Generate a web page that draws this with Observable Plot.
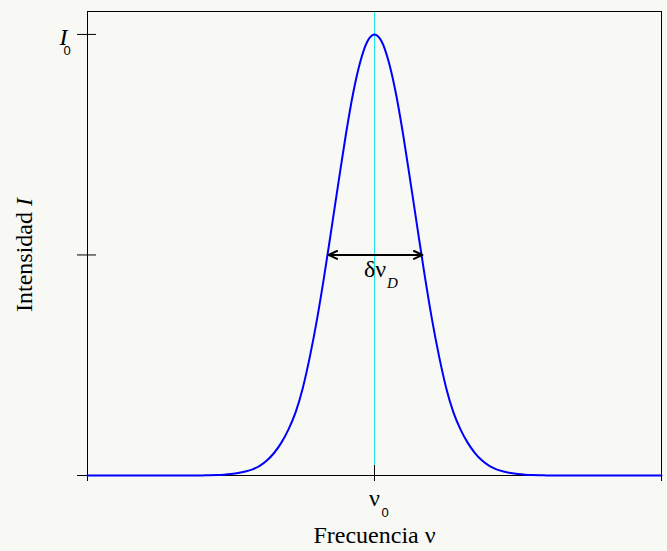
<!DOCTYPE html>
<html>
<head>
<meta charset="utf-8">
<script src="https://cdn.jsdelivr.net/npm/d3@7"></script>
<script src="https://cdn.jsdelivr.net/npm/@observablehq/plot@0.6"></script>
<style>
  html, body { margin: 0; padding: 0; background: #f8f8f4; }
  #chart svg { display: block; }
</style>
</head>
<body>
<div id="chart"></div>
<script>
// Frequency offset from line centre (arbitrary units) and normalised intensity I/I0
const freqOffsets = [-1, -0.65, -0.6, -0.575, -0.55, -0.525, -0.5, -0.475, -0.45, -0.425, -0.4, -0.375, -0.35, -0.325, -0.3, -0.275, -0.25, -0.225, -0.2, -0.175, -0.15, -0.125, -0.1, -0.075, -0.05, -0.025,
  0, 0.025, 0.05, 0.075, 0.1, 0.125, 0.15, 0.175, 0.2, 0.225, 0.25, 0.275, 0.3, 0.325, 0.35, 0.375, 0.4, 0.425, 0.45, 0.475, 0.5, 0.525, 0.55, 0.575, 0.6, 0.65, 1];
const intensity = [0, 0, 0.0002, 0.0005, 0.001, 0.0019, 0.0033, 0.0055, 0.009, 0.014, 0.022, 0.034, 0.051, 0.074, 0.104, 0.143, 0.198, 0.27, 0.355, 0.453, 0.559, 0.667, 0.772, 0.865, 0.937, 0.984,
  1, 0.984, 0.937, 0.865, 0.772, 0.667, 0.559, 0.453, 0.355, 0.27, 0.198, 0.143, 0.104, 0.074, 0.051, 0.034, 0.022, 0.014, 0.009, 0.0055, 0.0033, 0.0019, 0.001, 0.0005, 0.0002, 0, 0];

const xTicks = [-1, 0, 1];
const yTicks = [0, 0.5, 1];
const halfWidthLeft = -0.16;   // half-maximum crossing points
const halfWidthRight = 0.167;
const halfMax = 0.5;

const xLabel = "Frecuencia ν";
const yLabel = "Intensidad I";

const profile = freqOffsets.map((f, i) => ({f, I: intensity[i]}));

const serif = "'Liberation Serif', 'Times New Roman', serif";
const sans = "'Liberation Sans', Arial, sans-serif";

const chart = Plot.plot({
  width: 667,
  height: 551,
  marginLeft: 87,
  marginRight: 6,
  marginTop: 11,
  marginBottom: 76,
  style: {background: "#f8f8f4", color: "black"},
  x: {domain: [-1, 1], axis: null},
  y: {domain: [0, 1.052], axis: null},
  marks: [
    Plot.ruleX([0], {stroke: "#22e6e6", strokeWidth: 1}),
    Plot.frame({stroke: "black", strokeWidth: 1}),
    Plot.axisY({ticks: yTicks, tickSize: 19, dx: 9, tickFormat: () => "", stroke: "black", strokeOpacity: 1}),
    Plot.axisX({ticks: xTicks, tickSize: 16, dy: -10, tickFormat: () => "", stroke: "black", strokeOpacity: 1}),
    Plot.line(profile, {x: "f", y: "I", stroke: "#0000ff", strokeWidth: 2, curve: "monotone-x"}),
    Plot.arrow([{x1: 0, x2: halfWidthLeft, y: halfMax}, {x1: 0, x2: halfWidthRight, y: halfMax}],
      {x1: "x1", x2: "x2", y1: "y", y2: "y", stroke: "black", strokeWidth: 2, headLength: 7, headAngle: 50}),
    // tick labels
    Plot.text(["I"], {x: -1, y: 1, text: d => d, textAnchor: "end", lineAnchor: "bottom", dx: -20, dy: 11, fontSize: 24, fontFamily: serif, fontStyle: "italic", fill: "black"}),
    Plot.text(["0"], {x: -1, y: 1, text: d => d, textAnchor: "start", lineAnchor: "bottom", dx: -24, dy: 21, fontSize: 13, fontFamily: sans, fill: "black"}),
    Plot.text(["ν"], {x: 0, y: 0, text: d => d, textAnchor: "middle", lineAnchor: "bottom", dx: 0, dy: 30, fontSize: 24, fontFamily: serif, fill: "black"}),
    Plot.text(["0"], {x: 0, y: 0, text: d => d, textAnchor: "start", lineAnchor: "bottom", dx: 7, dy: 41, fontSize: 13, fontFamily: sans, fill: "black"}),
    // half-width label
    Plot.text(["δν"], {x: 0, y: halfMax, text: d => d, textAnchor: "start", lineAnchor: "bottom", dx: -10.5, dy: 22.5, fontSize: 24, fontFamily: serif, fill: "black"}),
    Plot.text(["D"], {x: 0, y: halfMax, text: d => d, textAnchor: "start", lineAnchor: "bottom", dx: 12.5, dy: 33.5, fontSize: 15, fontFamily: serif, fontStyle: "italic", fill: "black"}),
    // axis titles
    Plot.text([xLabel], {x: 0, y: 0, text: d => d, textAnchor: "middle", lineAnchor: "bottom", dy: 67, fontSize: 24, fontFamily: serif, fill: "black"}),
    Plot.text([yLabel], {x: -1, y: halfMax, text: d => d, textAnchor: "middle", lineAnchor: "bottom", rotate: -90, dx: -56, fontSize: 24, fontFamily: serif, fill: "black"})
  ]
});

// italicise the intensity symbol in the y-axis title
d3.select(chart).selectAll("text").each(function() {
  const t = d3.select(this);
  if (t.text() === yLabel) {
    t.text(null);
    t.append("tspan").text(yLabel.slice(0, -1));
    t.append("tspan").attr("font-style", "italic").style("font-style", "italic").text(yLabel.slice(-1));
  }
});

document.getElementById("chart").appendChild(chart);
</script>
</body>
</html>
